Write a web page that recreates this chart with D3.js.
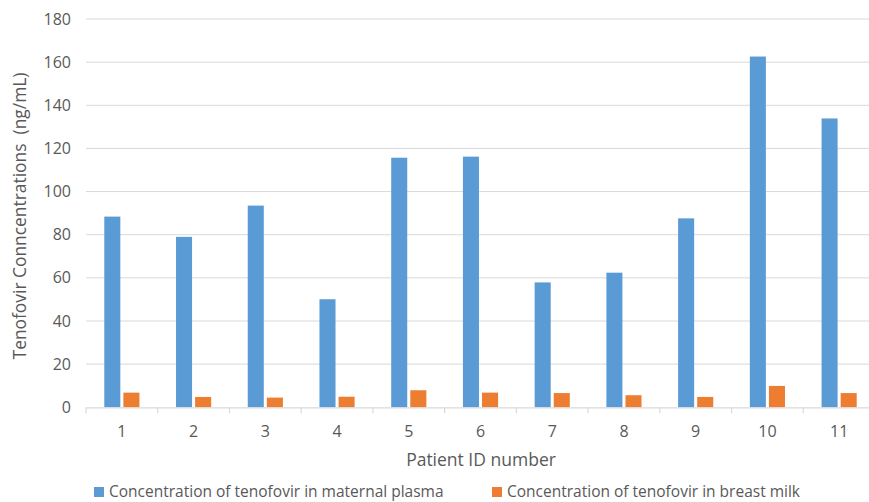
<!DOCTYPE html>
<html><head><meta charset="utf-8">
<script src="https://cdn.jsdelivr.net/npm/d3@7"></script>
<style>body{margin:0;background:#fff;}svg{display:block;font-family:"Open Sans",sans-serif;}</style>
</head><body>
<svg id="c" width="869" height="502"></svg>
<script>
const patients = ["1","2","3","4","5","6","7","8","9","10","11"];
const plasma = [88.4, 79.0, 93.5, 50.1, 115.7, 116.2, 57.9, 62.4, 87.6, 162.6, 133.9];
const milk = [6.8, 4.8, 4.5, 4.9, 7.9, 6.8, 6.6, 5.6, 4.8, 9.9, 6.6];
const seriesNames = ["Concentration of tenofovir in maternal plasma", "Concentration of tenofovir in breast milk"];
const seriesColors = ["#5b9bd5", "#ed7d31"];
const yTicks = [0,20,40,60,80,100,120,140,160,180];

const svg = d3.select("#c");
const mLeft = 86, mRight = 875, mTop = 19, mBottom = 407.3;
const x0 = d3.scaleBand().domain(patients).range([mLeft, mRight]).padding(0);
const bw = x0.bandwidth();
const x1 = d3.scaleBand().domain([0,1]).range([bw*0.255, bw*0.745]).paddingInner(0.16).paddingOuter(0);
const y = d3.scaleLinear().domain([0,180]).range([mBottom, mTop]);
const textCol = "#595959";

// gridlines
svg.append("g").selectAll("line").data(yTicks.slice(1)).join("line")
  .attr("x1", mLeft).attr("x2", mRight).attr("y1", d=>y(d)).attr("y2", d=>y(d))
  .attr("stroke", "#d9d9d9").attr("stroke-width", 1);

// y axis labels
const ya = svg.append("g").attr("transform", `translate(${mLeft},0)`)
  .call(d3.axisLeft(y).tickValues(yTicks).tickSize(0).tickPadding(15));
ya.select(".domain").remove();
ya.selectAll("text").attr("font-size", 16).attr("fill", textCol).attr("font-family", "'Open Sans',sans-serif");

// bars
const data = patients.map((p,i)=>({p, vals:[plasma[i], milk[i]]}));
const g = svg.append("g").selectAll("g").data(data).join("g")
  .attr("transform", d=>`translate(${x0(d.p)},0)`);
g.selectAll("rect").data(d=>d.vals.map((v,k)=>({v,k}))).join("rect")
  .attr("x", d=>x1(d.k)).attr("width", x1.bandwidth())
  .attr("y", d=>y(d.v)).attr("height", d=>y(0)-y(d.v))
  .attr("fill", d=>seriesColors[d.k]);

// x axis
const xa = svg.append("g").attr("transform", `translate(0,${mBottom})`)
  .call(d3.axisBottom(x0).tickSize(0).tickPadding(18));
xa.select(".domain").attr("stroke", "#d9d9d9").attr("stroke-width", 1.2);
xa.selectAll("text").attr("font-size", 16).attr("fill", textCol).attr("font-family", "'Open Sans',sans-serif");
// tick marks at band boundaries
const bounds = patients.map(p=>x0(p)).concat([mRight]);
svg.append("g").selectAll("line").data(bounds).join("line")
  .attr("x1", d=>d).attr("x2", d=>d).attr("y1", mBottom).attr("y2", mBottom+6)
  .attr("stroke", "#d9d9d9").attr("stroke-width", 1.2);

// axis titles
svg.append("text").attr("x", 481).attr("y", 466).attr("text-anchor", "middle")
  .attr("font-size", 17.5).attr("fill", textCol).text("Patient ID number");
svg.append("text").attr("transform", `translate(26,216) rotate(-90)`)
  .attr("text-anchor", "middle").attr("font-size", 17.4).attr("fill", textCol)
  .style("white-space", "pre").text("Tenofovir Conncentrations  (ng/mL)");

// legend
const legX = [94, 492];
const lg = svg.append("g").selectAll("g").data(seriesNames).join("g")
  .attr("transform", (d,i)=>`translate(${legX[i]},487)`);
lg.append("rect").attr("width", 10).attr("height", 10).attr("fill", (d,i)=>seriesColors[i]);
lg.append("text").attr("x", 15).attr("y", 10).attr("font-size", 15.5).attr("fill", textCol).text(d=>d);
</script>
</body></html>
